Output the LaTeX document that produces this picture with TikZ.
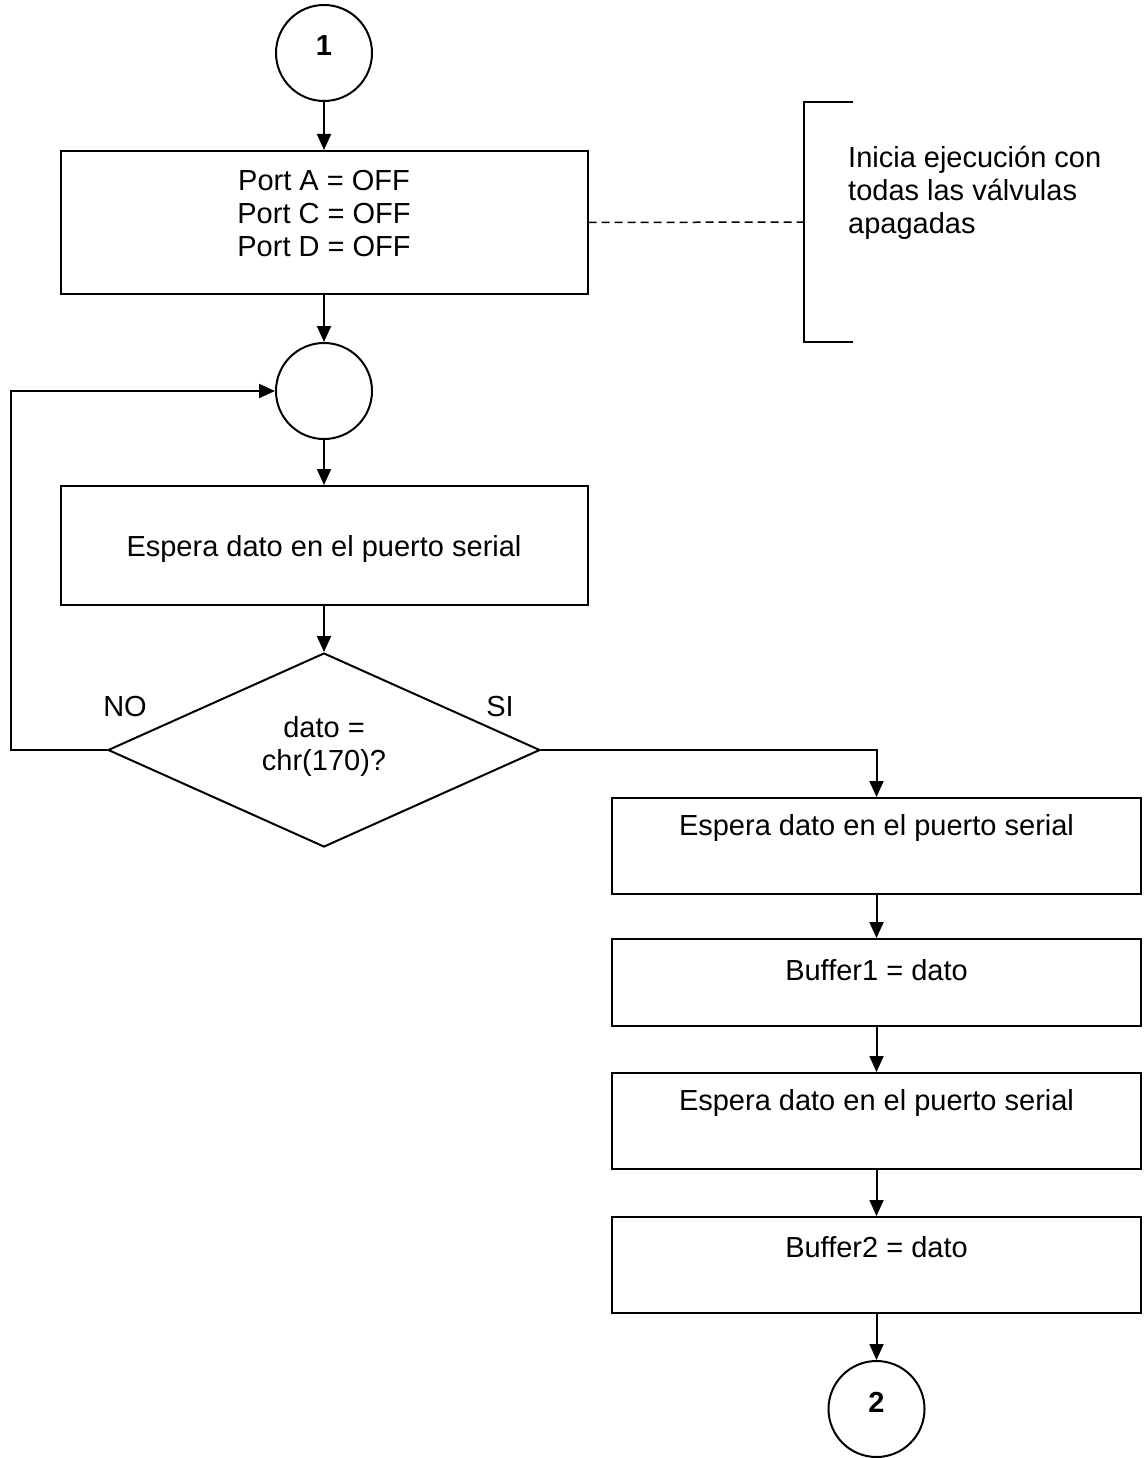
\documentclass[tikz,border=0pt]{standalone}
\usepackage{fontspec}
\setmainfont{Liberation Sans}
\usepackage{tikz}
\usetikzlibrary{positioning, arrows.meta, shapes.geometric, calc}

\newcommand{\liftTxt}[2]{\raisebox{#1}[\height][\depth]{\begin{tabular}{@{}c@{}}#2\end{tabular}}}

\tikzset{
  flow/.style={line width=2pt, -{Triangle[length=16pt,width=14pt]}},
  procbox/.style={draw, line width=2pt, rectangle, inner sep=0pt},
  joint/.style={draw, line width=2pt, circle, minimum size=96pt, inner sep=0pt},
  decision/.style={draw, line width=2pt, diamond, aspect=2.23, minimum width=432pt, minimum height=194pt, inner sep=0pt}
}

\begin{document}
\begin{tikzpicture}[x=1pt, y=-1pt, font=\fontsize{29}{33}\selectfont]
\useasboundingbox (0,0) rectangle (1147,1458);
% left column
\node[joint] (link1) at (324,53) {\liftTxt{4pt}{\bfseries 1}};
\node[procbox, minimum width=527pt, minimum height=143pt] (init) at (324,222.5) {\liftTxt{6pt}{Port A = OFF\\Port C = OFF\\Port D = OFF}};
\node[joint] (join) at (324,391) {};
\node[procbox, minimum width=527pt, minimum height=119pt] (wait1) at (324,545.5) {\liftTxt{-4pt}{Espera dato en el puerto serial}};
\node[decision] (check) at (324,750) {\liftTxt{3pt}{dato =\\chr(170)?}};
\node (no) at (125,707) {NO};
\node (si) at (500,707) {SI};
% right column
\node[procbox, minimum width=529pt, minimum height=96pt] (wait2) at (876.5,846) {\liftTxt{17pt}{Espera dato en el puerto serial}};
\node[procbox, minimum width=529pt, minimum height=87pt] (buf1) at (876.5,982.5) {\liftTxt{9pt}{Buffer1 = dato}};
\node[procbox, minimum width=529pt, minimum height=96pt] (wait3) at (876.5,1121) {\liftTxt{17pt}{Espera dato en el puerto serial}};
\node[procbox, minimum width=529pt, minimum height=96pt] (buf2) at (876.5,1265) {\liftTxt{14pt}{Buffer2 = dato}};
\node[joint] (link2) at (876.5,1409) {\liftTxt{3pt}{\bfseries 2}};
% comment
\coordinate (brk) at (804,222);
\node[anchor=west, inner sep=0pt] (note) at (848,194) {\begin{tabular}{@{}l@{}}Inicia ejecución con\\todas las válvulas\\apagadas\end{tabular}};
\draw[line width=1.5pt, dash pattern=on 8pt off 5pt] (init.east) -- (brk);
\draw[line width=2pt] (brk) ++(49,-120) -- ++(-49,0) -- ++(0,240) -- ++(49,0);
% connectors
\draw[flow] (link1) -- (init);
\draw[flow] (init) -- (join);
\draw[flow] (join) -- (wait1);
\draw[flow] (wait1) -- (check);
\draw[flow] (check.west) -- ++(-96,0) |- (join.west);
\draw[flow] (check.east) -| (wait2.north);
\draw[flow] (wait2) -- (buf1);
\draw[flow] (buf1) -- (wait3);
\draw[flow] (wait3) -- (buf2);
\draw[flow] (buf2) -- (link2);
\end{tikzpicture}
\end{document}
